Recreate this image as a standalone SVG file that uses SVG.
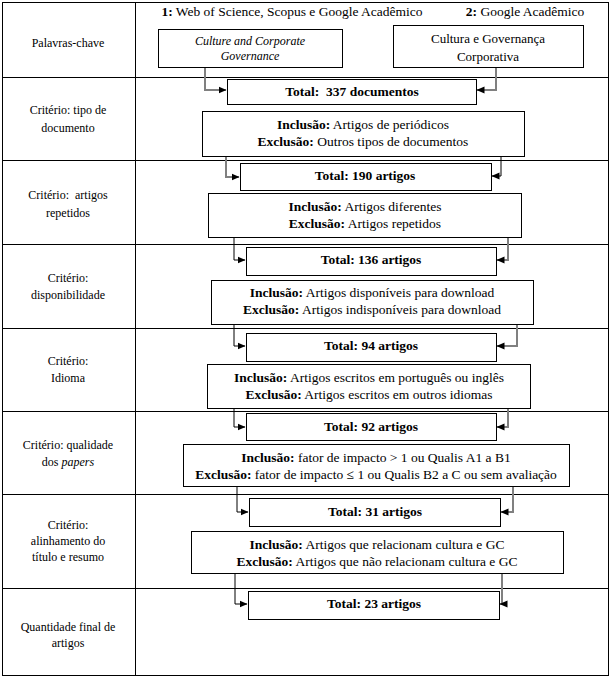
<svg xmlns="http://www.w3.org/2000/svg" width="611" height="678" viewBox="0 0 611 678" font-family="'Liberation Serif', 'Times New Roman', 'DejaVu Serif', serif" font-size="12">
<defs>
<marker id="ah" viewBox="0 0 8 8" refX="7.5" refY="4" markerWidth="8" markerHeight="8" markerUnits="userSpaceOnUse" orient="auto">
<path d="M0,0.5 L8,4 L0,7.5 Z" fill="#000"/>
</marker>
<style>
text{font-family:'Liberation Serif','Times New Roman','DejaVu Serif',serif;font-size:12px;fill:#000;text-anchor:middle;dominant-baseline:central}
.m{font-size:13.5px}
.b{font-weight:bold}
.i{font-style:italic}
.box{fill:#fff;stroke:#000;stroke-width:1}
.grid{fill:none;stroke:#000;stroke-width:1}
.cg{fill:none;stroke:#808080;stroke-width:2;marker-end:url(#ah)}
.ck{fill:none;stroke:#000;stroke-width:1;marker-end:url(#ah)}
</style>
</defs>
<rect width="611" height="678" fill="#fff"/>
<g id="table">
<rect class="grid" x="2.5" y="2.5" width="606" height="673"/>
<line class="grid" x1="135.5" y1="2" x2="135.5" y2="676"/>
<line class="grid" x1="2" y1="77.5" x2="609" y2="77.5"/>
<line class="grid" x1="2" y1="160.5" x2="609" y2="160.5"/>
<line class="grid" x1="2" y1="244.5" x2="609" y2="244.5"/>
<line class="grid" x1="2" y1="328.5" x2="609" y2="328.5"/>
<line class="grid" x1="2" y1="411.5" x2="609" y2="411.5"/>
<line class="grid" x1="2" y1="494.5" x2="609" y2="494.5"/>
<line class="grid" x1="2" y1="588.5" x2="609" y2="588.5"/>
</g>
<g id="labels">
<text x="68" y="43">Palavras-chave</text>
<text x="68" y="110">Critério: tipo de</text>
<text x="68" y="128">documento</text>
<text x="68" y="195" xml:space="preserve">Critério:  artigos</text>
<text x="68" y="213">repetidos</text>
<text x="68" y="278">Critério:</text>
<text x="68" y="295">disponibilidade</text>
<text x="68" y="361">Critério:</text>
<text x="68" y="378">Idioma</text>
<text x="68" y="445">Critério: qualidade</text>
<text x="68" y="462">dos <tspan class="i">papers</tspan></text>
<text x="68" y="525">Critério:</text>
<text x="68" y="541">alinhamento do</text>
<text x="68" y="557">título e resumo</text>
<text x="68" y="627">Quantidade final de</text>
<text x="68" y="643">artigos</text>
</g>
<g id="headers">
<text class="m" x="292" y="11"><tspan class="b">1:</tspan> Web of Science, Scopus e Google Acadêmico</text>
<text class="m" x="525" y="11"><tspan class="b">2:</tspan> Google Acadêmico</text>
</g>
<g id="connectors">
<path class="cg" d="M205,67 V90 H226"/>
<path class="cg" d="M496,67 V90 H477"/>
<path class="cg" d="M226,156 V177 H239"/>
<path class="ck" d="M501,156 V176 H492"/>
<path class="ck" d="M234,237 V260 H245"/>
<path class="cg" d="M508,237 V260 H497"/>
<path class="ck" d="M224,324 H234 V346 H245"/>
<path class="cg" d="M508,324 H517 V346 H497"/>
<path class="ck" d="M234,408 V427 H245"/>
<path class="cg" d="M508,408 V427 H497"/>
<path class="ck" d="M237,486 V512 H248"/>
<path class="cg" d="M513,486 V512 H501"/>
<path class="ck" d="M235,573 V604 H247"/>
<path class="cg" d="M502,573 V604 H500"/>
</g>
<g id="kw1">
<rect class="box" x="158.5" y="29.5" width="184" height="38"/>
<text class="i" x="250" y="41">Culture and Corporate</text>
<text class="i" x="250" y="56">Governance</text>
</g>
<g id="kw2">
<rect class="box" x="393.5" y="25.5" width="190" height="42"/>
<text x="488" y="38" style="font-size:13px">Cultura e Governança</text>
<text x="488" y="56" style="font-size:13px">Corporativa</text>
</g>
<g id="t337">
<rect class="box" x="227.5" y="79.5" width="249" height="25"/>
<text class="b m" x="352" y="91" xml:space="preserve">Total:  337 documentos</text>
</g>
<g id="c1">
<rect class="box" x="202.5" y="111.5" width="322" height="45"/>
<text class="m" x="363" y="124"><tspan class="b">Inclusão:</tspan> Artigos de periódicos</text>
<text class="m" x="363" y="141"><tspan class="b">Exclusão:</tspan> Outros tipos de documentos</text>
</g>
<g id="t190">
<rect class="box" x="240.5" y="163.5" width="251" height="27"/>
<text class="b m" x="365" y="175">Total: 190 artigos</text>
</g>
<g id="c2">
<rect class="box" x="208.5" y="193.5" width="313" height="44"/>
<text class="m" x="365" y="206"><tspan class="b">Inclusão:</tspan> Artigos diferentes</text>
<text class="m" x="365" y="223"><tspan class="b">Exclusão:</tspan> Artigos repetidos</text>
</g>
<g id="t136">
<rect class="box" x="246.5" y="247.5" width="250" height="28"/>
<text class="b m" x="371" y="259">Total: 136 artigos</text>
</g>
<g id="c3">
<rect class="box" x="211.5" y="280.5" width="322" height="44"/>
<text class="m" x="372" y="292"><tspan class="b">Inclusão:</tspan> Artigos disponíveis para download</text>
<text class="m" x="372" y="309"><tspan class="b">Exclusão:</tspan> Artigos indisponíveis para download</text>
</g>
<g id="t94">
<rect class="box" x="246.5" y="333.5" width="250" height="28"/>
<text class="b m" x="371" y="345">Total: 94 artigos</text>
</g>
<g id="c4">
<rect class="box" x="207.5" y="364.5" width="323" height="44"/>
<text class="m" x="369" y="377"><tspan class="b">Inclusão:</tspan> Artigos escritos em português ou inglês</text>
<text class="m" x="369" y="394"><tspan class="b">Exclusão:</tspan> Artigos escritos em outros idiomas</text>
</g>
<g id="t92">
<rect class="box" x="246.5" y="413.5" width="250" height="27"/>
<text class="b m" x="371" y="426">Total: 92 artigos</text>
</g>
<g id="c5">
<rect class="box" x="183.5" y="444.5" width="386" height="42"/>
<text class="m" x="376" y="457"><tspan class="b">Inclusão:</tspan> fator de impacto &gt; 1 ou Qualis A1 a B1</text>
<text class="m" x="376" y="474"><tspan class="b">Exclusão:</tspan> fator de impacto ≤ 1 ou Qualis B2 a C ou sem avaliação</text>
</g>
<g id="t31">
<rect class="box" x="249.5" y="498.5" width="251" height="28"/>
<text class="b m" x="375" y="511">Total: 31 artigos</text>
</g>
<g id="c6">
<rect class="box" x="191.5" y="531.5" width="372" height="42"/>
<text class="m" x="377" y="544"><tspan class="b">Inclusão:</tspan> Artigos que relacionam cultura e GC</text>
<text class="m" x="377" y="561"><tspan class="b">Exclusão:</tspan> Artigos que não relacionam cultura e GC</text>
</g>
<g id="t23">
<rect class="box" x="248.5" y="591.5" width="251" height="28"/>
<text class="b m" x="374" y="603">Total: 23 artigos</text>
</g>
</svg>
